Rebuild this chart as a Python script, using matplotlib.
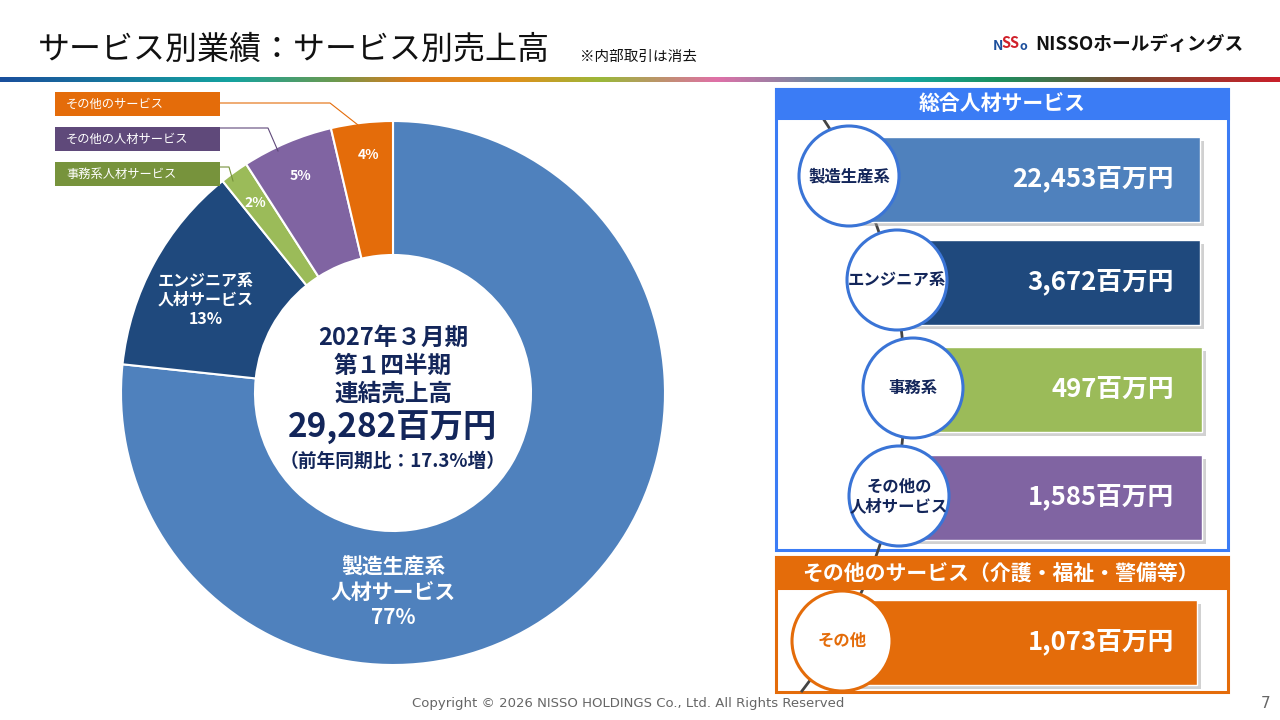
import matplotlib.pyplot as plt
import numpy as np
from matplotlib.colors import LinearSegmentedColormap
from matplotlib.patches import Circle, Rectangle

plt.rcParams["font.family"] = ["Noto Sans CJK JP", "DejaVu Sans"]

# --- data (百万円) ---
pie_labels = ["製造生産系\n人材サービス", "エンジニア系\n人材サービス", "事務系人材サービス",
              "その他の人材サービス", "その他のサービス"]
circle_labels = ["製造生産系", "エンジニア系", "事務系", "その他の\n人材サービス", "その他"]
sales = [22453, 3672, 497, 1585, 1073]
seg_colors = ["#4F81BD", "#1F497D", "#9BBB59", "#8064A2", "#E46C0A"]
callout_colors = ["#E46C0A", "#5F497A", "#77933C"]
total_text = "29,282"
yoy_text = "17.3"

NAVY = "#13265A"
BLUE_FRAME = "#3B7CF5"
CIRCLE_EDGE = "#3A74D6"
ORANGE = "#E46C0A"

fig = plt.figure(figsize=(12.8, 7.2), dpi=100)
fig.patch.set_facecolor("white")

# donut: centre (393, 393) px, outer radius 272 px
ax_pie = fig.add_axes([(393 - 300) / 1280, (720 - 393 - 300) / 720, 600 / 1280, 600 / 720])
ax_pie.pie(sales, colors=seg_colors, startangle=90, counterclock=False, radius=272,
           wedgeprops=dict(width=134, edgecolor="white", linewidth=1.5))
ax_pie.set_xlim(-300, 300)
ax_pie.set_ylim(-300, 300)
ax_pie.set_aspect("equal")
ax_pie.set_axis_off()

# overlay in pixel coordinates
ax = fig.add_axes([0, 0, 1, 1], zorder=2)
ax.set_xlim(0, 1280)
ax.set_ylim(720, 0)
ax.patch.set_alpha(0)
ax.set_axis_off()

# title and header
ax.text(38, 50, "サービス別業績：サービス別売上高", fontsize=23, color="#111111", va="center")
ax.text(580, 57, "※内部取引は消去", fontsize=10.5, color="#111111", va="center")
ax.text(993, 46, "N", fontsize=10, color="#1C4F9C", fontweight="bold", va="center")
ax.text(1001, 43, "SS", fontsize=10.5, color="#D0202A", fontweight="bold", va="center")
ax.text(1019, 47, "o", fontsize=9, color="#1C4F9C", fontweight="bold", va="center")
ax.text(1035, 45, "NISSOホールディングス", fontsize=13.5, color="#111111", fontweight="bold", va="center")

grad = LinearSegmentedColormap.from_list("bar", [
    (0.0, "#1A4F9C"), (0.18, "#14A3A0"), (0.26, "#6A9A50"), (0.32, "#E07B1B"),
    (0.40, "#E0901B"), (0.47, "#9AB83A"), (0.52, "#C09070"), (0.56, "#E070A8"),
    (0.64, "#6A8AA0"), (0.71, "#14A5A0"), (0.78, "#1A9060"), (0.88, "#7A4A30"),
    (1.0, "#C8202A")])
ax.imshow(np.linspace(0, 1, 512)[None, :], cmap=grad, aspect="auto",
          extent=[0, 1280, 82, 77], zorder=1)

# callout boxes with leader lines
callout_idx = [4, 3, 2]
box_y = [92, 127, 162]
leaders = [[(220, 103), (330, 103), (358, 125)],
           [(220, 128), (268, 128), (278, 151)],
           [(220, 167), (229, 167), (233, 181)]]
for i, y0, pts, col in zip(callout_idx, box_y, leaders, callout_colors):
    ax.add_patch(Rectangle((55, y0), 165, 24, facecolor=col, edgecolor="none", zorder=3))
    ax.text(66, y0 + 12, pie_labels[i], fontsize=8.8, color="white", va="center", zorder=4)
    xs, ys = zip(*pts)
    ax.plot(xs, ys, color=col, lw=0.8, zorder=3)

# percentages on the donut
pct = [round(v / sum(sales) * 100) for v in sales]
ax.text(393, 592, f"{pie_labels[0]}\n{pct[0]}%", fontsize=15, fontweight="bold",
        color="white", ha="center", va="center", linespacing=1.25)
ax.text(206, 300, f"{pie_labels[1]}\n{pct[1]}%", fontsize=11.5, fontweight="bold",
        color="white", ha="center", va="center", linespacing=1.2)
small_pos = [(255, 203), (300, 176), (369, 155)]
for i, (x, y) in zip([2, 3, 4], small_pos):
    ax.text(x, y, f"{pct[i]}%", fontsize=10, fontweight="bold", color="white",
            ha="center", va="center")

# centre text
for y, s in zip([338, 366, 394], ["2027年３月期", "第１四半期", "連結売上高"]):
    ax.text(393, y, s, fontsize=17, fontweight="bold", color=NAVY, ha="center", va="center")
ax.text(393, 428, f"{total_text}百万円", fontsize=24, fontweight="bold", color=NAVY, ha="center", va="center")
ax.text(393, 461, f"（前年同期比：{yoy_text}%増）", fontsize=13.5, fontweight="bold", color=NAVY,
        ha="center", va="center")

# right panel frames
ax.add_patch(Rectangle((776, 89), 452, 461, facecolor="white", edgecolor=BLUE_FRAME, lw=2.2, zorder=1))
ax.add_patch(Rectangle((776, 557), 452, 135, facecolor="white", edgecolor=ORANGE, lw=2.2, zorder=1))

# connecting arc behind the circles
t = np.linspace(np.arcsin((118 - 390) / 491), np.arcsin((691 - 390) / 491), 200)
ax.plot(414 + 491 * np.cos(t), 390 + 491 * np.sin(t), color="#444444", lw=2, zorder=2)

ax.add_patch(Rectangle((776, 89), 452, 29, facecolor=BLUE_FRAME, edgecolor=BLUE_FRAME, lw=2.2, zorder=3))
ax.text(1002, 103, "総合人材サービス", fontsize=15, fontweight="bold", color="white",
        ha="center", va="center", zorder=4)
ax.add_patch(Rectangle((776, 557), 452, 31, facecolor=ORANGE, edgecolor=ORANGE, lw=2.2, zorder=3))
ax.text(1000, 573, "その他のサービス（介護・福祉・警備等）", fontsize=15, fontweight="bold",
        color="white", ha="center", va="center", zorder=4)

# bars and circles
bar_cy = [179, 282, 389, 497, 642]
circ_c = [(849, 176), (897, 280), (913, 388), (899, 496), (842, 641)]
bar_right = [1200, 1200, 1202, 1202, 1197]
for k in range(5):
    cx, cy = circ_c[k]
    left = cx
    top = bar_cy[k] - 42.5
    ax.add_patch(Rectangle((left + 4, top + 4), bar_right[k] - left, 85, facecolor="#9a9a9a",
                           alpha=0.45, edgecolor="none", zorder=3))
    ax.add_patch(Rectangle((left, top), bar_right[k] - left, 85, facecolor=seg_colors[k],
                           edgecolor="white", lw=1, zorder=4))
    ax.text(1174, bar_cy[k], f"{sales[k]:,}百万円", fontsize=18.5, fontweight="bold", color="white",
            ha="right", va="center", zorder=6)
    edge = ORANGE if k == 4 else CIRCLE_EDGE
    tcol = ORANGE if k == 4 else NAVY
    ax.add_patch(Circle((cx, cy), 50, facecolor="white", edgecolor=edge, lw=2.2, zorder=5))
    ax.text(cx, cy, circle_labels[k], fontsize=11.8, fontweight="bold", color=tcol,
            ha="center", va="center", linespacing=1.1, zorder=6)

# footer
ax.text(412, 703, "Copyright © 2026 NISSO HOLDINGS Co., Ltd. All Rights Reserved",
        fontsize=9.5, color="#666666", va="center", family=["DejaVu Sans"])
ax.text(1266, 704, "7", fontsize=11, color="#666666", ha="center", va="center", family=["DejaVu Sans"])

fig.savefig("out.png", dpi=100, facecolor="white")
